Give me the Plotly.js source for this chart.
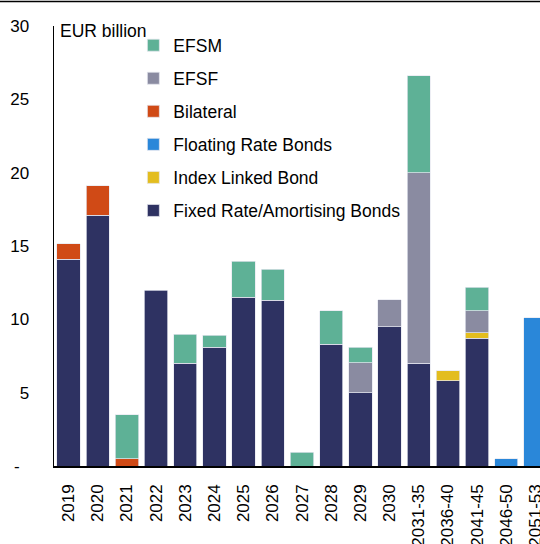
<!DOCTYPE html>
<html>
<head>
<meta charset="utf-8">
<script src="https://cdn.plot.ly/plotly-3.0.1.min.js"></script>
<style>
  html, body { margin: 0; padding: 0; overflow: hidden; background: #fff; }
  #chart { width: 600px; height: 544px; }
</style>
</head>
<body>
<div id="chart"></div>
<script>
// ---- data (EUR billion) ----
const categories = ['2019','2020','2021','2022','2023','2024','2025','2026','2027','2028','2029','2030','2031-35','2036-40','2041-45','2046-50','2051-53'];
const fixedRate  = [14.1, 17.1, null, 12.0, 7.0, 8.1, 11.5, 11.3, null, 8.3, 5.0, 9.5, 7.0, 5.8, 8.7, null, null];
const indexLinked = [null, null, null, null, null, null, null, null, null, null, null, null, null, 0.7, 0.4, null, null];
const floatingRate = [null, null, null, null, null, null, null, null, null, null, null, null, null, null, null, 0.5, 10.1];
const bilateral  = [1.05, 2.0, 0.5, null, null, null, null, null, null, null, null, null, null, null, null, null, null];
const efsf       = [null, null, null, null, null, null, null, null, null, null, 2.05, 1.85, 13.0, null, 1.5, null, null];
const efsm       = [null, null, 3.0, null, 2.0, 0.8, 2.45, 2.1, 0.95, 2.3, 1.05, null, 6.6, null, 1.6, null, null];
const yTickVals  = [0, 5, 10, 15, 20, 25, 30];
const yTickText  = ['-\u00a0\u00a0', '5', '10', '15', '20', '25', '30'];

const seriesNames  = ['Fixed Rate/Amortising Bonds', 'Index Linked Bond', 'Floating Rate Bonds', 'Bilateral', 'EFSF', 'EFSM'];
const seriesValues = [fixedRate, indexLinked, floatingRate, bilateral, efsf, efsm];
const seriesColors = ['#2e3262', '#e3bd1f', '#2a87d9', '#d04a16', '#8a8ba1', '#5eb196'];

const FONT = 'Arial, "Liberation Sans", sans-serif';

const traces = seriesNames.map((name, i) => ({
  type: 'bar',
  name: name,
  x: categories,
  y: seriesValues[i],
  legendgroup: 'g' + i,
  legendrank: 100 - i,
  marker: { color: seriesColors[i], line: { color: 'rgba(230,232,240,0.9)', width: 0.8 } },
  hoverinfo: 'x+y+name'
}));

const layout = {
  width: 600,
  height: 544,
  margin: { l: 54, r: 50, t: 26, b: 78 },
  paper_bgcolor: '#fff',
  plot_bgcolor: '#fff',
  barmode: 'stack',
  bargap: 0.2,
  font: { family: FONT, size: 16.5, color: '#000' },
  showlegend: true,
  legend: {
    traceorder: 'grouped',
    tracegroupgap: 7.3,
    x: 0.16, xanchor: 'left',
    y: 0.997, yanchor: 'top',
    bgcolor: 'rgba(0,0,0,0)',
    font: { family: FONT, size: 17.5, color: '#000' }
  },
  xaxis: {
    type: 'category',
    range: [-0.5, 16.5],
    showline: true, linecolor: '#000', linewidth: 1.5,
    showgrid: false, zeroline: false,
    ticks: '', tickangle: -90,
    ticklabelstandoff: 10,
    tickfont: { family: FONT, size: 17, color: '#000' }
  },
  yaxis: {
    range: [0, 30],
    showline: true, linecolor: '#000', linewidth: 1.5,
    showgrid: false, zeroline: false,
    ticks: '',
    tickvals: yTickVals, ticktext: yTickText,
    ticklabelstandoff: 20,
    tickfont: { family: FONT, size: 17, color: '#000' }
  },
  annotations: [{
    text: 'EUR billion', xref: 'paper', yref: 'paper',
    x: 0.009, y: 0.988, xanchor: 'left', yanchor: 'middle',
    showarrow: false, font: { family: FONT, size: 17.5, color: '#000' }
  }],
  shapes: [{
    type: 'line', xref: 'paper', yref: 'paper',
    x0: -0.2, x1: 1.2, y0: 1.0557, y1: 1.0557,
    line: { color: '#000', width: 1.5 }
  }]
};

Plotly.newPlot('chart', traces, layout, { displayModeBar: false, staticPlot: true });
</script>
</body>
</html>
